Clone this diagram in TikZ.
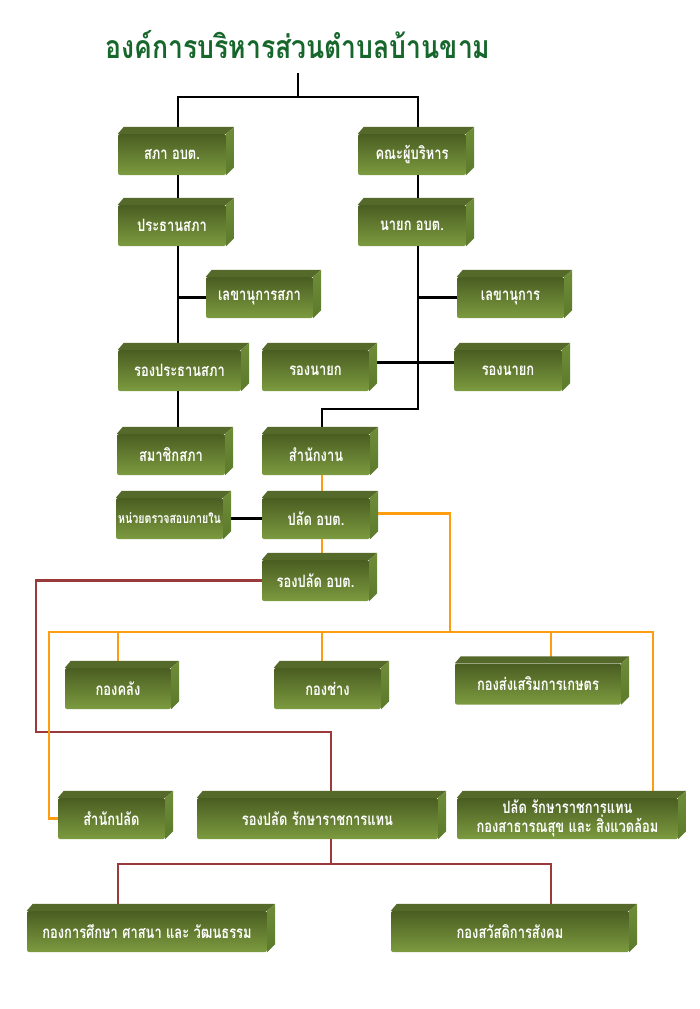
\documentclass[tikz,border=0pt]{standalone}
\usepackage{fontspec}
\newfontfamily\thaifont[Script=Thai, FakeStretch=0.76]{Loma}
\newfontfamily\thaititle[Script=Thai, FakeStretch=0.83]{Loma}
\usetikzlibrary{calc}

\definecolor{facetop}{HTML}{4A5D22}
\definecolor{facebot}{HTML}{7C9B3F}
\definecolor{bevtopcol}{HTML}{55692A}
\definecolor{sidetop}{HTML}{6F8D38}
\definecolor{sidebot}{HTML}{5B7A2B}
\definecolor{titlegreen}{HTML}{17662C}
\definecolor{orgorange}{HTML}{FF9C0F}
\definecolor{orgred}{HTML}{9A3A3A}

\begin{document}
\begin{tikzpicture}[x=1pt,y=-1pt,
    orgbox/.style={minimum width=#1, minimum height=41pt, inner sep=0pt,
        top color=facetop, bottom color=facebot, rounded corners=2pt,
        text=white, align=center, font=\thaifont\bfseries\fontsize{17}{17}\selectfont},
    orgbox/.default=108,
    blackline/.style={line width=2.4pt, black},
    orangeline/.style={line width=2.4pt, orgorange},
    redline/.style={line width=2.4pt, orgred}]
    \useasboundingbox (0,0) rectangle (700,1009);

    \node[text=titlegreen, font=\thaititle\bfseries\fontsize{32}{36}\selectfont] (title) at (298,45) {องค์การบริหารส่วนตำบลบ้านขาม};

    \node[orgbox] (sapha) at (172,154.5) {สภา อบต.};
    \node[orgbox] (khana) at (412,154.5) {คณะผู้บริหาร};
    \node[orgbox] (prathan) at (172,225.5) {ประธานสภา};
    \node[orgbox] (nayok) at (412,225.5) {นายก อบต.};
    \node[orgbox=107] (lekhasapha) at (259.5,297.5) {เลขานุการสภา};
    \node[orgbox=107] (lekha) at (510.5,297.5) {เลขานุการ};
    \node[orgbox=123] (rongprathan) at (179.5,370.5) {รองประธานสภา};
    \node[orgbox=107] (rongnayokL) at (315.5,370.5) {รองนายก};
    \node[orgbox] (rongnayokR) at (508,370.5) {รองนายก};
    \node[orgbox] (samachik) at (171,454.5) {สมาชิกสภา};
    \node[orgbox] (samnakngan) at (316,454.5) {สำนักงาน};
    \node[orgbox=107, font=\thaifont\bfseries\fontsize{14}{14}\selectfont] (nuai) at (169.5,518.5) {หน่วยตรวจสอบภายใน};
    \node[orgbox] (palat) at (316,518.5) {ปลัด อบต.};
    \node[orgbox=107] (rongpalat) at (315.5,580.5) {รองปลัด อบต.};
    \node[orgbox=106] (kongkhlang) at (118,688.5) {กองคลัง};
    \node[orgbox=107] (kongchang) at (327.5,688.5) {กองช่าง};
    \node[orgbox=166] (songsoem) at (538,684) {กองส่งเสริมการเกษตร};
    \node[orgbox=107] (samnakpalat) at (111.5,818.5) {สำนักปลัด};
    \node[orgbox=241] (rongpalatraksa) at (317.5,818.5) {รองปลัด รักษาราชการแทน};
    \node[orgbox=221, font=\thaifont\bfseries\fontsize{17}{16}\selectfont] (palatraksa) at (567.5,818.5) {ปลัด รักษาราชการแทน\\กองสาธารณสุข และ สิ่งแวดล้อม};
    \node[orgbox=240] (kansueksa) at (147,931.5) {กองการศึกษา ศาสนา และ วัฒนธรรม};
    \node[orgbox=238] (sawatdikan) at (510,931.5) {กองสวัสดิการสังคม};

    \coordinate (stemtop) at (298,73);
    \coordinate (split) at (298,97);
    \coordinate (lspine) at (178,0);
    \coordinate (rspine) at (418,0);
    \coordinate (bend) at (322,409);
    \coordinate (obus) at (450,632);
    \coordinate (obusL) at (49,632);
    \coordinate (obusR) at (653,632);
    \coordinate (redL) at (36,732);
    \coordinate (redM) at (331,732);
    \coordinate (redbus) at (331,864);

    % black lines
    \draw[blackline] (stemtop) -- (split);
    \draw[blackline] (lspine |- sapha.north) |- (split) -| (rspine |- khana.north);
    \draw[blackline] (lspine |- sapha.south) -- (lspine |- prathan.north);
    \draw[blackline] (lspine |- prathan.south) -- (lspine |- rongprathan.north);
    \draw[blackline] (lspine |- lekhasapha.west) -- (lekhasapha.west);
    \draw[blackline] (lspine |- rongprathan.south) -- (lspine |- samachik.north);
    \draw[blackline] (rspine |- khana.south) -- (rspine |- nayok.north);
    \draw[blackline] (rspine |- nayok.south) |- (bend) -- (bend |- samnakngan.north);
    \draw[blackline] (rspine |- lekha.west) -- (lekha.west);
    \draw[blackline] ([yshift=8pt]rongnayokL.east) -- ([yshift=8pt]rongnayokR.west);
    \draw[blackline] (nuai.east) -- (palat.west);

    % red lines
    \draw[redline] (rongpalat.west) -| (redL) -- (redM) -- (redM |- rongpalatraksa.north);
    \draw[redline] (redM |- rongpalatraksa.south) -- (redbus);
    \draw[redline] ([xshift=-29pt]kansueksa.north) |- (redbus) -| ([xshift=41pt]sawatdikan.north);

    % orange lines
    \draw[orangeline] (bend |- samnakngan.south) -- (bend |- palat.north);
    \draw[orangeline] (bend |- palat.south) -- (bend |- rongpalat.north);
    \draw[orangeline] ([yshift=5pt]palat.east) -| (obus);
    \draw[orangeline] (samnakpalat.west) -| (obusL) -- (obusR) -- (obusR |- palatraksa.north);
    \draw[orangeline] (kongkhlang.north |- obusL) -- (kongkhlang.north);
    \draw[orangeline] (bend |- obusL) -- (bend |- kongchang.north);
    \draw[orangeline] ([xshift=13pt]songsoem.north |- obusL) -- ([xshift=13pt]songsoem.north);

    % bevels of the boxes
    \foreach \n in {sapha,khana,prathan,nayok,lekhasapha,lekha,rongprathan,rongnayokL,rongnayokR,
        samachik,samnakngan,nuai,palat,rongpalat,kongkhlang,kongchang,songsoem,samnakpalat,
        rongpalatraksa,palatraksa,kansueksa,sawatdikan}{
        \fill[bevtopcol] (\n.north west) -- ++(6,-7) -- ([shift={(8,-7)}]\n.north east) -- (\n.north east) -- cycle;
        \shade[top color=sidetop, bottom color=sidebot] (\n.north east) -- ++(8,-7) -- ([shift={(8,-8)}]\n.south east) -- (\n.south east) -- cycle;
    }
\end{tikzpicture}
\end{document}
